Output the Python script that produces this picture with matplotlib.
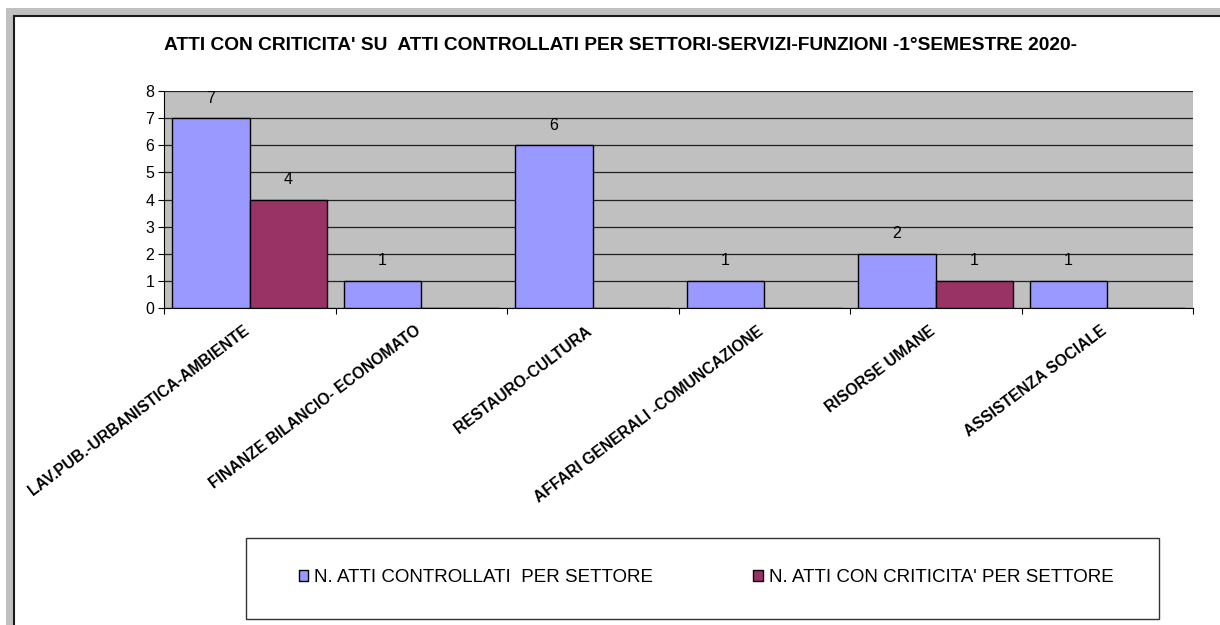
import matplotlib
matplotlib.use("Agg")
import matplotlib.pyplot as plt
from matplotlib.patches import Rectangle, Patch
from matplotlib.transforms import ScaledTranslation
import numpy as np

plt.rcParams['font.family'] = ['Liberation Sans', 'DejaVu Sans']

title = "ATTI CON CRITICITA' SU  ATTI CONTROLLATI PER SETTORI-SERVIZI-FUNZIONI -1°SEMESTRE 2020-"
categories = ["LAV.PUB.-URBANISTICA-AMBIENTE", "FINANZE BILANCIO- ECONOMATO",
              "RESTAURO-CULTURA", "AFFARI GENERALI -COMUNCAZIONE",
              "RISORSE UMANE", "ASSISTENZA SOCIALE"]
controllati = [7, 1, 6, 1, 2, 1]
criticita = [4, 0, 0, 0, 1, 0]
series_names = ["N. ATTI CONTROLLATI  PER SETTORE", "N. ATTI CON CRITICITA' PER SETTORE"]
colors = ["#9999FF", "#993366"]
yticks = list(range(0, 9))

W, H = 1220, 625
fig = plt.figure(figsize=(W / 100, H / 100), dpi=100)

# outer frame
fig.patches.append(Rectangle((6 / W, -0.1), 1.2, (H - 8) / H + 0.1, transform=fig.transFigure,
                             facecolor="#c0c0c0", edgecolor="none", zorder=-2))
fig.patches.append(Rectangle((13.5 / W, -0.1), 1.2, (H - 15.5) / H + 0.1, transform=fig.transFigure,
                             facecolor="white", edgecolor="#1a1a1a", linewidth=1.5, zorder=-1))

ax = fig.add_axes([164 / W, (H - 308) / H, 1029 / W, 217 / H])
ax.set_zorder(3)
ax.set_facecolor("#c0c0c0")

n = len(categories)
x = np.arange(n) + 0.5
bw = 0.452
b1 = ax.bar(x - bw / 2, controllati, bw, color=colors[0], edgecolor="black", linewidth=1, zorder=3)
b2 = ax.bar(x + bw / 2, criticita, bw, color=colors[1], edgecolor="black", linewidth=1, zorder=3)

for bars, vals in ((b1, controllati), (b2, criticita)):
    for r, v in zip(bars, vals):
        if v:
            ax.annotate(str(v), (r.get_x() + r.get_width() / 2, v), xytext=(0, 9),
                        textcoords="offset points", ha="center", va="bottom", fontsize=11.5)

ax.set_xlim(0, n)
ax.set_ylim(0, 8)
ax.set_yticks(yticks)
ax.set_yticklabels([str(t) for t in yticks], fontsize=11.5)
ax.yaxis.grid(True, color="#222222", linewidth=0.9, zorder=1)
ax.set_axisbelow(True)

ax.set_xticks(np.arange(n + 1))
ax.set_xticklabels([])
ax.set_xticks(x, minor=True)
ax.set_xticklabels(categories, minor=True, rotation=37, ha="right", va="top",
                   rotation_mode="anchor", fontsize=11.3, fontweight="bold")
ax.tick_params(axis="x", which="minor", length=0, pad=11)
ax.tick_params(axis="x", which="major", length=4, direction="out", color="black")
ax.tick_params(axis="y", length=4, direction="out", color="black", pad=3)
shift = ScaledTranslation(-7 / 100, 0, fig.dpi_scale_trans)
for lab in ax.get_xticklabels(minor=True):
    lab.set_transform(lab.get_transform() + shift)

for s in ("top", "right"):
    ax.spines[s].set_visible(False)
ax.spines["left"].set_color("black")
ax.spines["bottom"].set_color("black")

fig.text(620 / W, 1 - 45 / H, title, ha="center", va="center", fontsize=13.8, fontweight="bold")

# legend box
fig.patches.append(Rectangle((246 / W, (H - 619) / H), 913 / W, 81 / H, transform=fig.transFigure,
                             facecolor="white", edgecolor="#333333", linewidth=1, zorder=1))
handles = [Patch(facecolor=c, edgecolor="black", linewidth=1) for c in colors]
leg = fig.legend(handles, series_names, loc="center", bbox_to_anchor=(706 / W, 1 - 578 / H),
                 ncol=2, frameon=False, fontsize=13.5, handlelength=0.53, handleheight=0.53,
                 handletextpad=0.32, columnspacing=5.3)
leg.set_zorder(2)

fig.savefig("out.png", dpi=100)
